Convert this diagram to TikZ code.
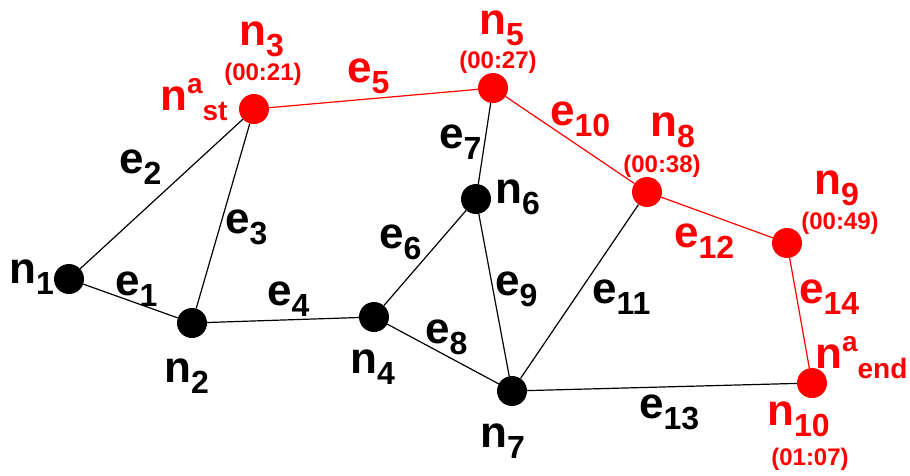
\documentclass[tikz,border=0pt]{standalone}
\usepackage{fontspec}
\setmainfont{Liberation Sans}
\usetikzlibrary{calc}

% graph label: letter with subscript
\newcommand{\gl}[2]{{\fontsize{44}{44}\selectfont #1}\raisebox{-11pt}{\fontsize{32}{32}\selectfont #2}}
% agent label: n^a_x
\newcommand{\agl}[1]{{\fontsize{44}{44}\selectfont n}\raisebox{17pt}{\fontsize{28}{28}\selectfont a}\raisebox{-10pt}{\fontsize{28}{28}\selectfont #1}}

\tikzset{
  vtx/.style={circle,fill=black,minimum size=30pt,inner sep=0pt},
  avtx/.style={vtx,fill=red},
  lab/.style={font=\bfseries,inner sep=0pt,anchor=base west},
  alab/.style={lab,text=red},
  tlab/.style={font=\bfseries\fontsize{24}{24}\selectfont,inner sep=0pt,text=red},
  edge/.style={line width=1.2pt,black},
  aedge/.style={line width=1.2pt,red}
}

\begin{document}
\begin{tikzpicture}[x=1pt,y=-1pt]
  \useasboundingbox (0,0) rectangle (910,475);

  % vertices
  \node[vtx]  (n1)  at (69,279)  {};
  \node[vtx]  (n2)  at (192,323) {};
  \node[avtx] (n3)  at (254,109) {};
  \node[vtx]  (n4)  at (374,317) {};
  \node[avtx] (n5)  at (493,88)  {};
  \node[vtx]  (n6)  at (476,199) {};
  \node[vtx]  (n7)  at (512,391) {};
  \node[avtx] (n8)  at (647,192) {};
  \node[avtx] (n9)  at (787,243) {};
  \node[avtx] (n10) at (812,383) {};

  % edges
  \draw[edge] (n1) -- (n2);
  \draw[edge] (n1) -- (n3);
  \draw[edge] (n2) -- (n3);
  \draw[edge] (n2) -- (n4);
  \draw[edge] (n4) -- (n6);
  \draw[edge] (n5) -- (n6);
  \draw[edge] (n4) -- (n7);
  \draw[edge] (n6) -- (n7);
  \draw[edge] (n7) -- (n8);
  \draw[edge] (n7) -- (n10);
  \draw[aedge] (n3) -- (n5);
  \draw[aedge] (n5) -- (n8);
  \draw[aedge] (n8) -- (n9);
  \draw[aedge] (n9) -- (n10);

  % vertex labels
  \node[lab]  (l1)  at (9,283)   {\gl{n}{1}};
  \node[lab]  (l2)  at (164,382) {\gl{n}{2}};
  \node[alab] (l3)  at (239,45)  {\gl{n}{3}};
  \node[alab] (lst) at (160,110) {\agl{st}};
  \node[lab]  (l4)  at (350,373) {\gl{n}{4}};
  \node[alab] (l5)  at (479,34)  {\gl{n}{5}};
  \node[lab]  (l6)  at (495,203) {\gl{n}{6}};
  \node[lab]  (l7)  at (480,447) {\gl{n}{7}};
  \node[alab] (l8)  at (650,136) {\gl{n}{8}};
  \node[alab] (l9)  at (814,194) {\gl{n}{9}};
  \node[alab] (l10) at (767,425) {\gl{n}{10}};
  \node[alab] (lend) at (815,368) {\agl{end}};

  % arrival times
  \node[tlab] (t3)  at (263,74)  {(00:21)};
  \node[tlab] (t5)  at (498,62)  {(00:27)};
  \node[tlab] (t8)  at (662,166) {(00:38)};
  \node[tlab] (t9)  at (840,223) {(00:49)};
  \node[tlab] (t10) at (810,459) {(01:07)};

  % edge labels
  \node[lab]  (e1)  at (115,295) {\gl{e}{1}};
  \node[lab]  (e2)  at (119,173) {\gl{e}{2}};
  \node[lab]  (e3)  at (225,233) {\gl{e}{3}};
  \node[lab]  (e4)  at (267,305) {\gl{e}{4}};
  \node[alab] (e5)  at (347,82)  {\gl{e}{5}};
  \node[lab]  (e6)  at (379,248) {\gl{e}{6}};
  \node[lab]  (e7)  at (439,148) {\gl{e}{7}};
  \node[lab]  (e8)  at (425,343) {\gl{e}{8}};
  \node[lab]  (e9)  at (495,295) {\gl{e}{9}};
  \node[alab] (e10) at (550,125) {\gl{e}{10}};
  \node[lab]  (e11) at (592,303) {\gl{e}{11}};
  \node[alab] (e12) at (674,247) {\gl{e}{12}};
  \node[lab]  (e13) at (639,418) {\gl{e}{13}};
  \node[alab] (e14) at (799,303) {\gl{e}{14}};
\end{tikzpicture}
\end{document}
